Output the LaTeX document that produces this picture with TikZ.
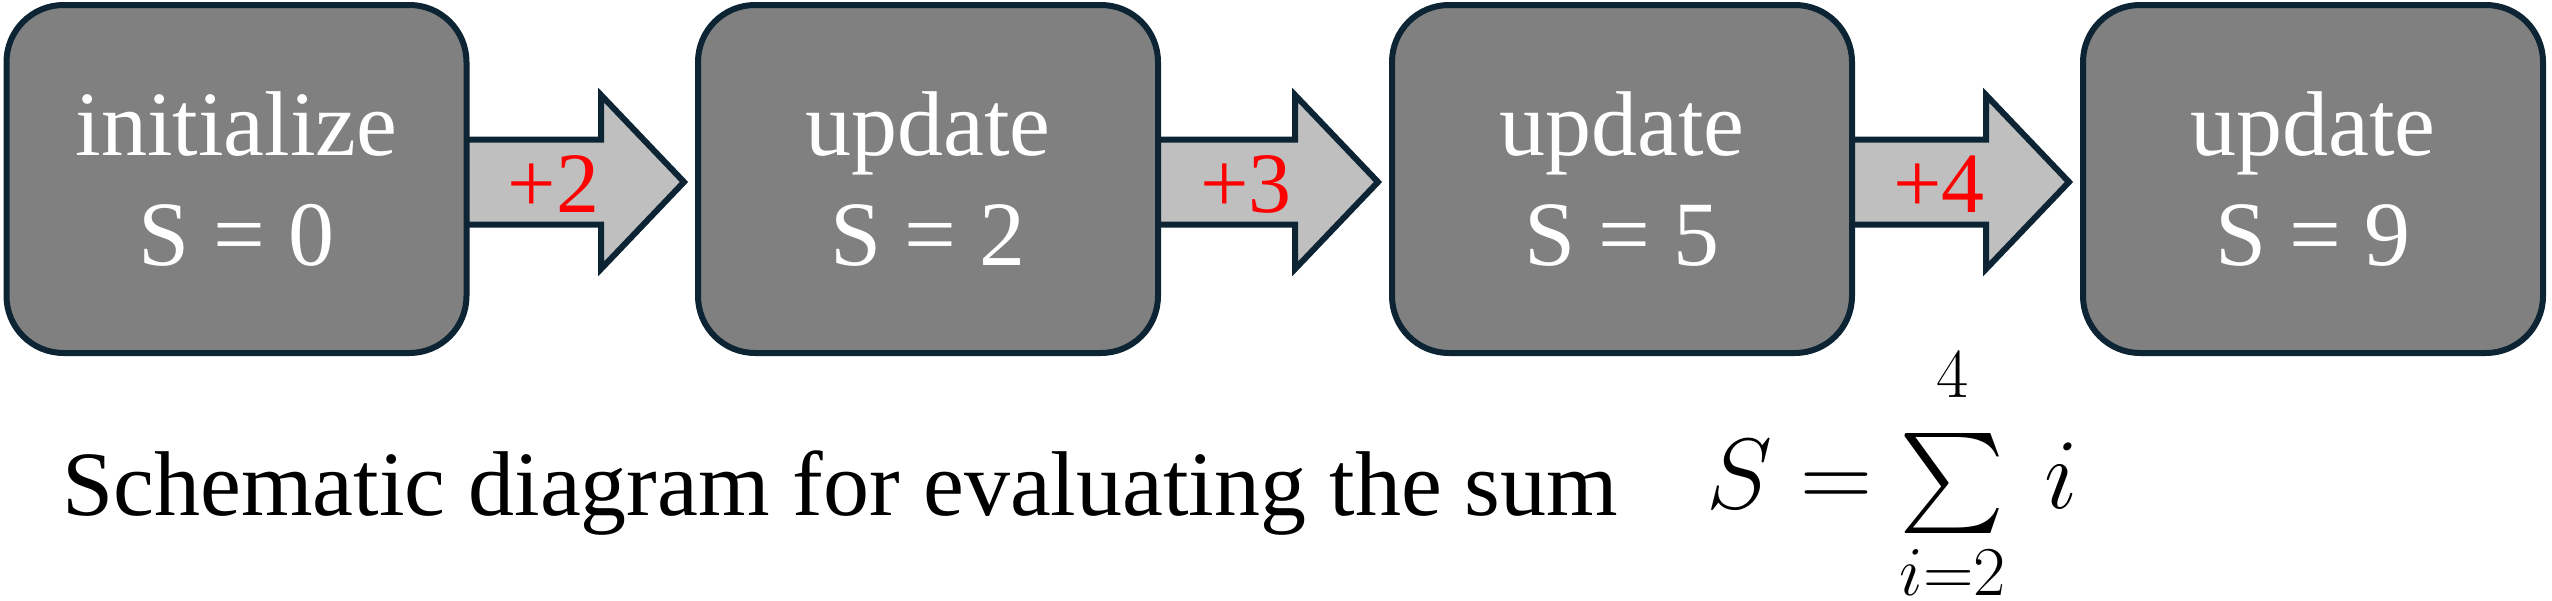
\RequirePackage{fix-cm}
\documentclass[tikz,border=0pt]{standalone}
\usepackage{amsmath}
\usepackage[no-math]{fontspec}
\setmainfont{Liberation Serif}
\DeclareFontShape{OMX}{cmex}{m}{n}{<-> cmex10}{}
\usetikzlibrary{calc}
\pgfdeclarelayer{bg}
\pgfsetlayers{bg,main}
\definecolor{boxgray}{RGB}{128,128,128}
\definecolor{edge}{RGB}{12,36,52}
\definecolor{arrowgray}{RGB}{191,191,191}
\definecolor{plusred}{RGB}{255,0,0}
\tikzset{
  stage/.style={draw=edge, fill=boxgray, line width=6pt, rounded corners=57pt,
    minimum width=460pt, minimum height=348pt, inner sep=0pt, text=white,
    align=center, font=\fontsize{92}{110}\selectfont},
  flowarrow/.style={draw=edge, fill=arrowgray, line width=6pt, line join=miter},
  plus/.style={text=plusred, inner sep=0pt, font=\fontsize{86}{90}\selectfont},
  caption/.style={anchor=base west, inner sep=0pt, font=\fontsize{92}{100}\selectfont},
  formula/.style={anchor=base west, inner sep=0pt, font=\fontsize{100}{100}\selectfont}
}
\begin{document}
\begin{tikzpicture}[x=1pt,y=-1pt]
\useasboundingbox (0,0) rectangle (2552,600);
\node[stage] (b1) at (236.5,179) {initialize\\S = 0};
\node[stage] (b2) at (928,179) {update\\S = 2};
\node[stage] (b3) at (1622,179) {update\\S = 5};
\node[stage] (b4) at (2313,179) {update\\S = 9};
\foreach \a/\b/\t in {b1/b2/+2, b2/b3/+3, b3/b4/+4}{
  \coordinate (s\a) at ($(\a.east)+(-3,3)$);
  \coordinate (t\a) at ($(\b.west)+(-11,3)$);
  \begin{pgfonlayer}{bg}
  \draw[flowarrow] ($(s\a)+(-4,-42.5)$) -- ($(t\a)+(-83,-42.5)$) -- ($(t\a)+(-83,-87)$)
    -- (t\a) -- ($(t\a)+(-83,87)$) -- ($(t\a)+(-83,42.5)$) -- ($(s\a)+(-4,42.5)$) -- cycle;
  \end{pgfonlayer}
  \node[plus] (l\a) at ($($(s\a)!0.4!(t\a)$)+(0,2)$) {\t};
}
\node[caption] (cap) at (62,515) {Schematic diagram for evaluating the sum};
\node[formula] (eq) at (1706,508) {$\textstyle S=\sum\limits_{i=2}^{\raisebox{16pt}{$\scriptstyle 4$}}\mkern4mu i$};
\end{tikzpicture}
\end{document}
